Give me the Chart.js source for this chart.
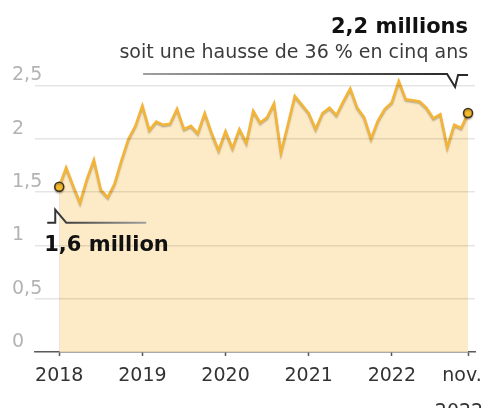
<!DOCTYPE html>
<html><head><meta charset="utf-8">
<script src="https://cdn.jsdelivr.net/npm/chart.js@4.4.0/dist/chart.umd.min.js"></script>
<style>html,body{margin:0;padding:0;background:#fff;}#wrap{width:482px;height:408px;}</style>
</head><body><div id="wrap"><canvas id="c" width="482" height="408"></canvas></div>
<script>
// Monthly values (millions), first point = start of 2018, last = nov. 2022
const values = [1.55,1.73,1.56,1.40,1.62,1.80,1.52,1.45,1.58,1.80,2.00,2.12,
                2.31,2.08,2.16,2.13,2.14,2.28,2.09,2.12,2.05,2.24,2.05,1.89,
                2.07,1.91,2.09,1.96,2.26,2.15,2.20,2.33,1.87,2.13,2.40,2.32,
                2.24,2.09,2.24,2.29,2.22,2.35,2.47,2.29,2.20,2.00,2.17,2.28,
                2.34,2.54,2.37,2.36,2.35,2.29,2.19,2.23,1.92,2.13,2.10,2.24];
const tickPos = [0,12,24,36,48,59];
const tickLabels = ['2018','2019','2020','2021','2022',['nov.\u00a0\u00a0','2022\u00a0\u00a0\u00a0']];
const yTicks = [0,0.5,1,1.5,2,2.5];
const yTickLabels = ['0','0,5','1','1,5','2','2,5'];
const annoTop = '2,2 millions';
const annoSub = 'soit une hausse de 36 % en cinq ans';
const annoStart = '1,6 million';

const shadowPlugin = {
  id:'lineShadow',
  beforeDatasetsDraw(chart){const c=chart.ctx;c.save();c.shadowColor='rgba(70,50,10,0.35)';c.shadowOffsetY=1.5;c.shadowBlur=1.5;},
  afterDatasetsDraw(chart){chart.ctx.restore();}
};

const annoPlugin = {
  id:'anno',
  afterDraw(chart){
    const {ctx, scales:{x,y}} = chart;
    const n = values.length-1;
    const lx = x.getPixelForValue(n);
    const fx = x.getPixelForValue(0), fy = y.getPixelForValue(values[0]);
    ctx.save();
    ctx.textAlign='right'; ctx.textBaseline='alphabetic';
    ctx.fillStyle='#111'; ctx.font='bold 21px "DejaVu Sans"';
    ctx.fillText(annoTop, lx, 33);
    ctx.fillStyle='#3c3c3c'; ctx.font='19px "DejaVu Sans"';
    ctx.fillText(annoSub, lx, 58);
    // top leader
    const tY = 74;
    ctx.lineWidth=2; ctx.lineJoin='miter';
    let g = ctx.createLinearGradient(lx-325,0,lx-21,0);
    g.addColorStop(0,'#a0a0a0'); g.addColorStop(1,'#2a2a2a');
    ctx.strokeStyle=g;
    ctx.beginPath(); ctx.moveTo(lx-325,tY); ctx.lineTo(lx-21,tY); ctx.lineTo(lx-13,tY+13); ctx.lineTo(lx-10,tY+1); ctx.lineTo(lx,tY+1); ctx.stroke();
    // bottom-left leader
    const bY = fy+36;
    g = ctx.createLinearGradient(fx-12,0,fx+87,0);
    g.addColorStop(0,'#2a2a2a'); g.addColorStop(1,'#a0a0a0');
    ctx.strokeStyle=g;
    ctx.beginPath(); ctx.moveTo(fx-12,bY); ctx.lineTo(fx-4,bY); ctx.lineTo(fx-4,fy+23); ctx.lineTo(fx+7,bY); ctx.lineTo(fx+87,bY); ctx.stroke();
    ctx.textAlign='left'; ctx.fillStyle='#111'; ctx.font='bold 21px "DejaVu Sans"';
    ctx.fillText(annoStart, fx-15, fy+64);
    ctx.restore();
  }
};

new Chart(document.getElementById('c'), {
  type:'line',
  data:{datasets:[{
    data: values.map((v,i)=>({x:i,y:v})),
    borderColor:'#f4b436', borderWidth:2.5,
    backgroundColor:'rgb(253,235,200)', fill:'origin', tension:0,
    pointRadius: c => (c.dataIndex===0 || c.dataIndex===values.length-1) ? 4.5 : 0,
    pointBackgroundColor:'#f6b82c', pointBorderColor:'#3a3320', pointBorderWidth:1.5,
    pointHoverRadius:0
  }]},
  options:{
    responsive:false, animation:false, events:[],
    layout:{padding:{left:12,right:7,top:64,bottom:0}},
    plugins:{legend:{display:false}, tooltip:{enabled:false}},
    scales:{
      x:{type:'linear', min:-3.5, max:60, z:1,
        afterBuildTicks: s => { s.ticks = tickPos.map(v=>({value:v})); },
        afterFit: s => { s.height = 56; s.paddingLeft = 0; s.paddingRight = 0; },
        grid:{drawOnChartArea:false, drawTicks:true, tickLength:4, tickColor:'#555', tickWidth:1.5},
        border:{display:true, color:'#666', width:1.5},
        ticks:{autoSkip:false, maxRotation:0, padding:2, color:'#333',
          font:{family:'DejaVu Sans', size:19, lineHeight:'36px'},
          callback:(v,i)=>tickLabels[i]}
      },
      y:{min:0, max:2.7,
        afterBuildTicks: s => { s.ticks = yTicks.map(v=>({value:v})); },
        afterFit: s => { s.width = 23; s.paddingTop = 0; s.paddingBottom = 0; },
        grid:{color:'rgba(0,0,0,0.1)', lineWidth:1.5, drawTicks:false, z:1},
        border:{display:false},
        ticks:{mirror:true, labelOffset:-10, padding:-23, color:'#b3b3b3',
          font:{family:'DejaVu Sans', size:19},
          callback:(v,i)=>yTickLabels[i]}
      }
    }
  },
  plugins:[shadowPlugin, annoPlugin]
});
</script></body></html>
